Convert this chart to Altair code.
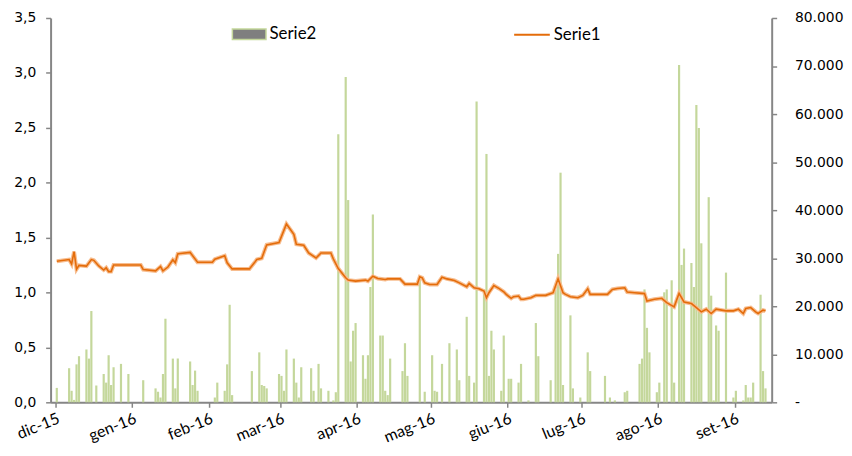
import altair as alt
import pandas as pd

START_DATE = "2015-12-01"
MONTHS_IT = ["gen", "feb", "mar", "apr", "mag", "giu", "lug", "ago", "set", "ott", "nov", "dic"]
TICK_MONTHS = [(2015, 12), (2016, 1), (2016, 2), (2016, 3), (2016, 4), (2016, 5),
               (2016, 6), (2016, 7), (2016, 8), (2016, 9)]

# Serie1 (left axis): day offset from 1 Dec 2015 and value
line_days = [0, 5, 6, 7, 8, 9, 12, 14, 15, 17,
             19, 20, 21, 22, 23, 34, 35, 40, 42, 43,
             45, 47, 48, 49, 50, 54, 57, 63, 64, 68,
             69, 71, 78, 80, 81, 83, 85, 90, 93, 96,
             97, 100, 102, 105, 107, 111, 112, 114, 117, 118,
             121, 125, 126, 128, 130, 133, 134, 139, 141, 146,
             147, 148, 149, 151, 154, 156, 158, 161, 163, 166,
             167, 169, 171, 173, 174, 175, 177, 179, 181, 182,
             184, 185, 187, 188, 189, 192, 194, 198, 201, 203,
             205, 206, 208, 211, 213, 215, 216, 223, 225, 227,
             230, 231, 234, 238, 239, 242, 245, 247, 250, 252,
             254, 257, 259, 261, 263, 265, 267, 271, 274, 276,
             278, 279, 281, 283, 284, 286, 287]
serie1 = [1.284, 1.30, 1.26, 1.372, 1.212, 1.247, 1.24, 1.30, 1.293, 1.242,
          1.205, 1.225, 1.19, 1.19, 1.25, 1.25, 1.209, 1.197, 1.236, 1.197,
          1.232, 1.297, 1.272, 1.352, 1.355, 1.365, 1.275, 1.275, 1.303, 1.335,
          1.27, 1.215, 1.215, 1.27, 1.30, 1.312, 1.434, 1.455, 1.624, 1.53,
          1.44, 1.43, 1.36, 1.314, 1.36, 1.36, 1.305, 1.218, 1.134, 1.113,
          1.104, 1.113, 1.104, 1.148, 1.127, 1.118, 1.124, 1.124, 1.076, 1.076,
          1.143, 1.134, 1.088, 1.073, 1.073, 1.139, 1.124, 1.11, 1.088, 1.052,
          1.082, 1.043, 1.034, 1.013, 0.953, 0.998, 1.064, 1.037, 1.007, 0.983,
          0.947, 0.962, 0.968, 0.938, 0.938, 0.953, 0.974, 0.974, 0.998, 1.125,
          0.998, 0.983, 0.962, 0.953, 0.974, 1.034, 0.983, 0.983, 1.028, 1.037,
          1.043, 1.004, 0.998, 0.99, 0.923, 0.938, 0.947, 0.908, 0.869, 0.992,
          0.914, 0.899, 0.863, 0.824, 0.848, 0.809, 0.848, 0.833, 0.833, 0.848,
          0.809, 0.854, 0.863, 0.824, 0.809, 0.839, 0.833]

# Serie2 (right axis): day offset from 1 Dec 2015 and value
bar_days = [0, 5, 6, 7, 8, 9, 12, 13, 14, 16,
            19, 20, 21, 22, 23, 26, 29, 35, 40, 41,
            42, 43, 44, 47, 48, 49, 54, 55, 56, 57,
            64, 65, 68, 69, 70, 71, 79, 82, 83, 84,
            85, 90, 91, 92, 93, 96, 97, 98, 99, 103,
            104, 106, 107, 110, 112, 113, 114, 117, 118, 119,
            120, 121, 124, 125, 126, 127, 128, 131, 132, 133,
            134, 135, 140, 141, 142, 147, 149, 152, 153, 154,
            156, 159, 162, 163, 166, 167, 169, 170, 173, 174,
            175, 176, 177, 180, 181, 183, 184, 187, 188, 191,
            194, 195, 200, 202, 203, 204, 205, 208, 209, 212,
            215, 216, 222, 224, 226, 230, 231, 236, 237, 238,
            239, 240, 243, 244, 246, 247, 249, 250, 252, 253,
            254, 257, 258, 259, 260, 261, 264, 265, 266, 267,
            268, 271, 274, 275, 278, 279, 280, 281, 282, 285,
            286, 287]
serie2 = [3000, 7100, 2400, 500, 7900, 9600, 11000, 9100, 19000, 3500,
          5900, 4100, 9800, 3600, 7300, 8000, 5900, 4600, 2900, 2200,
          1000, 5900, 17400, 9100, 2900, 9100, 8500, 3600, 6600, 2400,
          1000, 4100, 2400, 7900, 20300, 1500, 6500, 10400, 3600, 3400,
          2900, 5900, 5500, 2400, 11000, 9100, 4100, 1000, 7300, 7100,
          2400, 8000, 2900, 2400, 400, 2100, 55800, 67700, 42100, 8500,
          14900, 16500, 9800, 4900, 9800, 24000, 39100, 13900, 13900, 2400,
          1500, 9100, 6500, 12300, 5500, 25600, 2200, 9800, 2400, 2200,
          8000, 12300, 11000, 4600, 17800, 5500, 4100, 62600, 23500, 51700,
          5500, 14900, 11000, 2400, 13900, 4900, 4900, 4100, 8000, 400,
          16500, 9600, 4600, 23500, 30900, 47800, 3600, 18100, 2900, 1000,
          10400, 6500, 5500, 1000, 400, 2100, 2400, 8000, 9100, 23500,
          15500, 10400, 2100, 4100, 22900, 23500, 25400, 4100, 70200, 28600,
          32000, 29000, 24000, 61900, 57100, 33100, 42700, 22200, 400, 16000,
          14900, 27000, 1000, 2400, 400, 3600, 1000, 1000, 4100, 22400,
          6500, 2900]

start = pd.Timestamp(START_DATE)


def day_to_iso(d):
    return (start + pd.Timedelta(days=d, hours=12)).strftime("%Y-%m-%dT%H:%M:%S")


line_df = pd.DataFrame({"date": [day_to_iso(d) for d in line_days],
                        "value": serie1, "serie": "Serie1"})
bar_df = pd.DataFrame({"date": [day_to_iso(d) for d in bar_days],
                       "value": serie2, "serie": "Serie2"})

AXIS_GRAY = "#868686"
BAR_GREEN = "#C4D79B"
ORANGE = "#E46C0A"
ORANGE_LIGHT = "#F7BD8F"

month_array = "[" + ",".join("'%s'" % m for m in MONTHS_IT) + "]"
x_enc = alt.X(
    "date:T", title=None,
    scale=alt.Scale(domain=[alt.DateTime(year=2015, month=12, date=1),
                            alt.DateTime(year=2016, month=9, date=14)]),
    axis=alt.Axis(
        values=[alt.DateTime(year=y, month=m, date=1) for y, m in TICK_MONTHS],
        labelExpr=month_array + "[month(datum.value)] + '-' + timeFormat(datum.value, '%y')",
        labelAngle=-22, labelAlign="right", labelBaseline="top", labelPadding=3,
        labelFont="Lato", labelFontSize=16, labelColor="#000000",
        labelOverlap=False, labelFlush=False, labelBound=False,
        tickSize=5, tickColor=AXIS_GRAY, tickWidth=1.5,
        domainColor=AXIS_GRAY, domainWidth=2, grid=False,
    ),
)

left_scale = alt.Scale(domain=[0, 3.5])
left_axis = alt.Axis(
    orient="left", values=[0, 0.5, 1, 1.5, 2, 2.5, 3, 3.5],
    labelExpr="replace(format(datum.value, '.1f'), '.', ',')",
    labelFont="DejaVu Sans", labelFontSize=14, labelColor="#000000", labelPadding=10,
    tickSize=5, tickColor=AXIS_GRAY, tickWidth=1.5,
    domainColor=AXIS_GRAY, domainWidth=2, grid=False, title=None,
)
right_axis = alt.Axis(
    orient="right", values=[0, 10000, 20000, 30000, 40000, 50000, 60000, 70000, 80000],
    labelExpr="datum.value == 0 ? '-' : replace(format(datum.value, ','), ',', '.')",
    labelFont="DejaVu Sans", labelFontSize=14, labelColor="#000000", labelPadding=18,
    tickSize=5, tickColor=AXIS_GRAY, tickWidth=1.5,
    domainColor=AXIS_GRAY, domainWidth=2, grid=False, title=None,
)

bars = alt.Chart(bar_df).mark_bar(size=2.2).encode(
    x=x_enc,
    y=alt.Y("value:Q", scale=alt.Scale(domain=[0, 80000]), axis=right_axis),
    fill=alt.Fill("serie:N", scale=alt.Scale(domain=["Serie2"], range=[BAR_GREEN]), legend=None),
    opacity=alt.Opacity(
        "serie:O", scale=alt.Scale(domain=["Serie2"], range=[1]),
        legend=alt.Legend(
            title=None, orient="none", legendX=189, legendY=5, padding=0,
            symbolType="M-1.6,-0.5H1.6V0.5H-1.6Z", symbolSize=450,
            symbolFillColor="#7F7F7F", symbolStrokeColor=BAR_GREEN, symbolStrokeWidth=1.5,
            labelFont="Lato", labelFontSize=17, labelColor="#000000", labelOffset=9,
        ),
    ),
)

glow = alt.Chart(line_df).mark_line(color=ORANGE_LIGHT, strokeWidth=4).encode(
    x=x_enc,
    y=alt.Y("value:Q", scale=left_scale, axis=None),
)

core = alt.Chart(line_df).mark_line(strokeWidth=1.6).encode(
    x=x_enc,
    y=alt.Y("value:Q", scale=left_scale, axis=left_axis),
    stroke=alt.Stroke(
        "serie:N", scale=alt.Scale(domain=["Serie1"], range=[ORANGE]),
        legend=alt.Legend(
            title=None, orient="none", legendX=467, legendY=-2, padding=0,
            symbolType="stroke", symbolSize=1296, symbolStrokeWidth=2,
            labelFont="Lato", labelFontSize=17, labelColor="#000000", labelOffset=3,
        ),
    ),
)

chart = alt.layer(bars, glow, core).resolve_scale(
    y="independent", fill="independent", stroke="independent"
).properties(
    width=728, height=388,
    padding={"left": 43, "top": 8, "right": 73, "bottom": 40},
    autosize=alt.AutoSizeParams(type="none"),
    background="white",
).configure_view(stroke=None)

chart.save("out.html", embed_options={"renderer": "svg", "actions": False})
